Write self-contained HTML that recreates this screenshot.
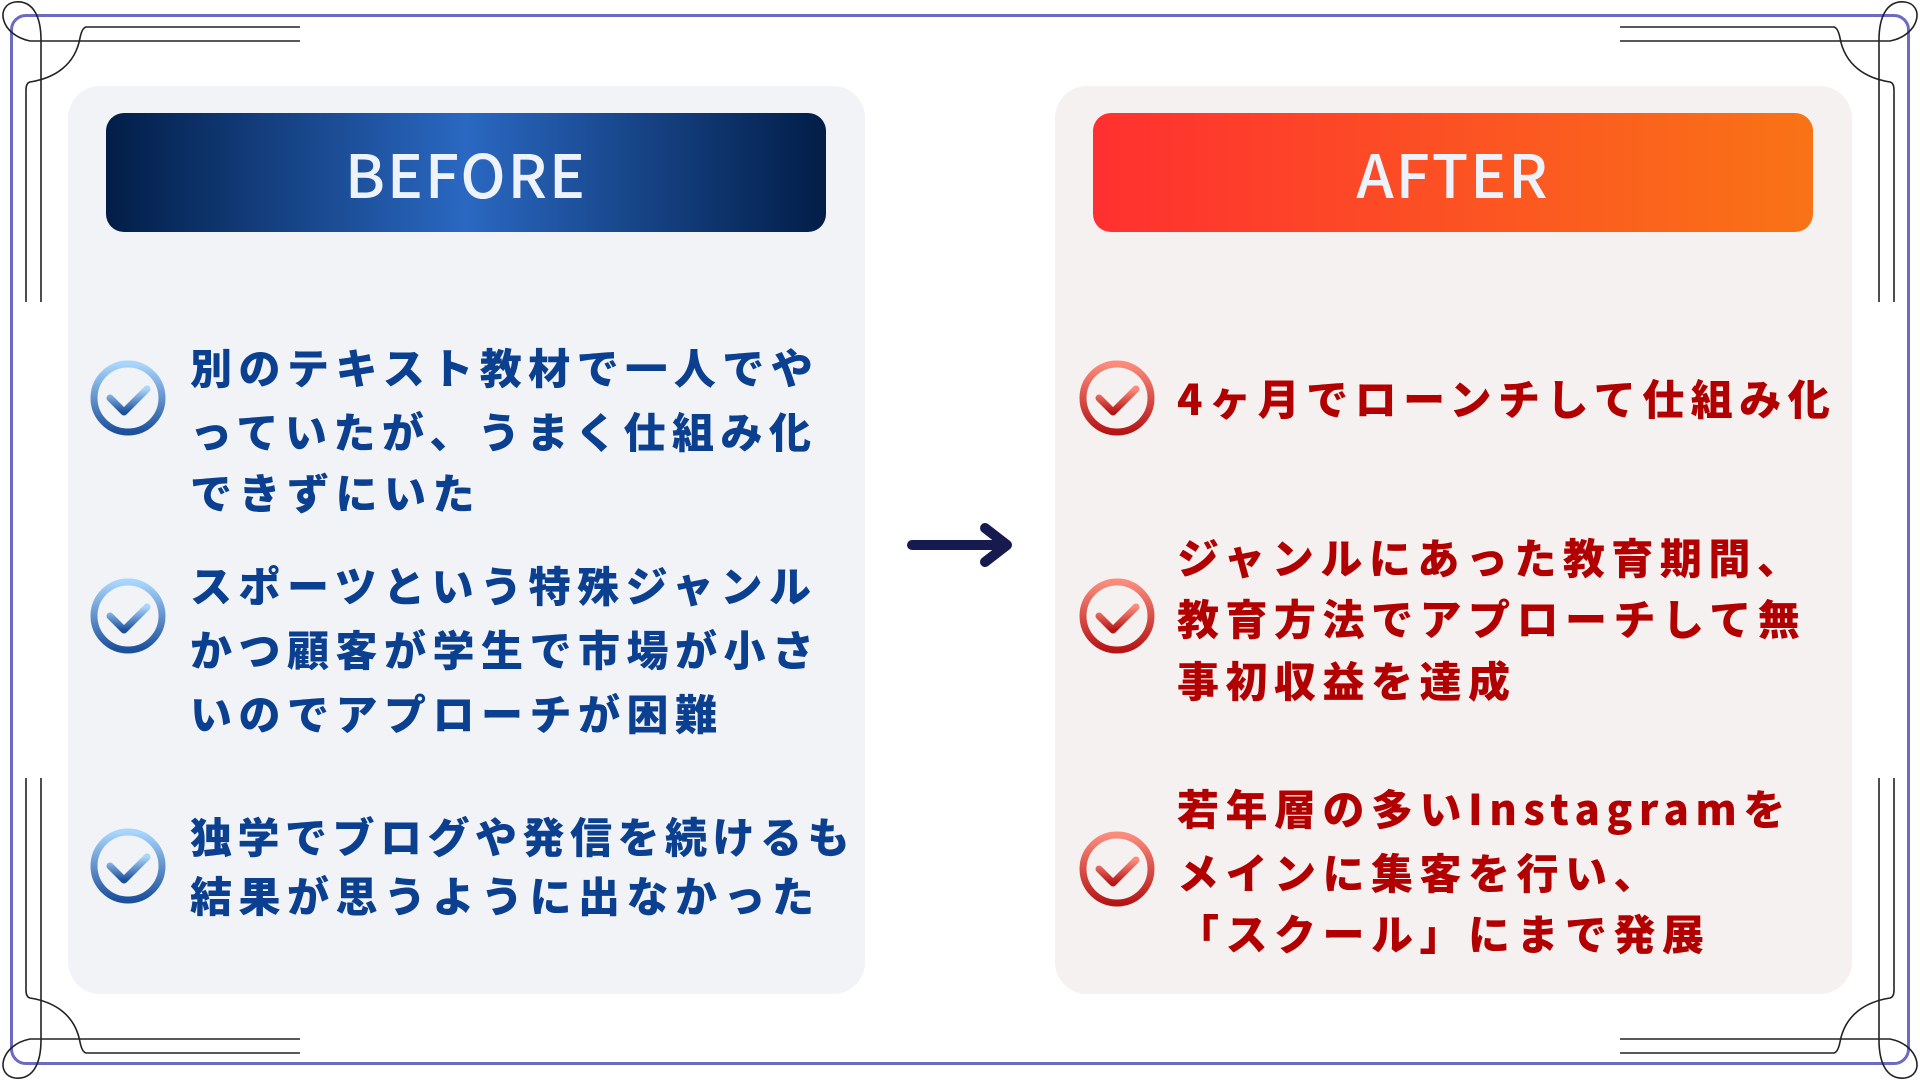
<!DOCTYPE html>
<html><head><meta charset="utf-8"><style>
*{margin:0;padding:0;box-sizing:border-box}
body{width:1920px;height:1080px;background:#fff;position:relative;overflow:hidden;font-family:"Liberation Sans","Noto Sans CJK JP",sans-serif}
.frame{position:absolute;left:10px;top:14px;width:1900px;height:1051px;border:3px solid #6b6bc4;border-radius:16px}
.panel{position:absolute;top:86px;height:908px;width:797px;border-radius:32px}
.hdr{position:absolute;top:113px;height:119px;width:720px;border-radius:18px;color:#eef2fa;font-family:"Noto Sans CJK JP","Liberation Sans",sans-serif;font-weight:500;font-size:60px;letter-spacing:2px;text-align:center;line-height:119px}
.t{position:absolute;font-family:"Noto Sans CJK JP",sans-serif;font-weight:900;font-size:42px;letter-spacing:6.5px;line-height:62px;white-space:nowrap}
.b{color:#0b3f8f;left:190px}
.r{color:#b20000;left:1177px}
</style></head><body>
<div class="frame"></div>
<svg width="1920" height="1080" style="position:absolute;left:0;top:0" fill="none" stroke="#222" stroke-width="1.6">
<defs><g id="c">
<path d="M300,27 L86,27 Q82,28 80,38 C75,65 55,78 30,82 Q26,83 26,90 L26,302"/>
<path d="M300,41 L30,41 C0,35 -5,5 15,2 C35,0 41,20 41,40 L41,302"/>
</g>
<linearGradient id="gb" x1="0" y1="0" x2="0" y2="1"><stop offset="0" stop-color="#a9d6fc"/><stop offset="1" stop-color="#1c4f9c"/></linearGradient>
<linearGradient id="gr" x1="0" y1="0" x2="0" y2="1"><stop offset="0" stop-color="#fb8c7c"/><stop offset="1" stop-color="#b51515"/></linearGradient>
</defs>
<use href="#c"/>
<use href="#c" transform="translate(1920,0) scale(-1,1)"/>
<use href="#c" transform="translate(0,1080) scale(1,-1)"/>
<use href="#c" transform="translate(1920,1080) scale(-1,-1)"/>
</svg>
<div class="panel" style="left:68px;background:#f1f3f7"></div>
<div class="panel" style="left:1055px;background:#f6f1f1"></div>
<div class="hdr" style="left:106px;background:linear-gradient(90deg,#021d47 0%,#2a68c2 50%,#021d47 100%)">BEFORE</div>
<div class="hdr" style="left:1093px;background:linear-gradient(90deg,#ff3030 0%,#f97316 100%)">AFTER</div>

<svg width="1920" height="1080" style="position:absolute;left:0;top:0" fill="none" stroke-linecap="round" stroke-linejoin="round">
<g stroke="url(#gb)" stroke-width="7">
<circle cx="128" cy="398" r="34"/><polyline points="110,398 124,412 147,389"/>
<circle cx="128" cy="616" r="34"/><polyline points="110,616 124,630 147,607"/>
<circle cx="128" cy="866" r="34"/><polyline points="110,866 124,880 147,857"/>
</g>
<g stroke="url(#gr)" stroke-width="7">
<circle cx="1117" cy="398" r="34"/><polyline points="1099,398 1113,412 1136,389"/>
<circle cx="1117" cy="616" r="34"/><polyline points="1099,616 1113,630 1136,607"/>
<circle cx="1117" cy="869" r="34"/><polyline points="1099,869 1113,883 1136,860"/>
</g>
<g stroke="#161a4e" stroke-width="10">
<line x1="912" y1="545" x2="1006" y2="545"/><polyline points="985,528 1007,545 985,562"/>
</g>
</svg>

<div class="t b" style="top:336px">別のテキスト教材で一人でや</div>
<div class="t b" style="top:400px">っていたが、うまく仕組み化</div>
<div class="t b" style="top:461px">できずにいた</div>
<div class="t b" style="top:554px">スポーツという特殊ジャンル</div>
<div class="t b" style="top:618px">かつ顧客が学生で市場が小さ</div>
<div class="t b" style="top:682px">いのでアプローチが困難</div>
<div class="t b" style="top:805px;letter-spacing:5.5px">独学でブログや発信を続けるも</div>
<div class="t b" style="top:864px">結果が思うように出なかった</div>

<div class="t r" style="top:367px">4ヶ月でローンチして仕組み化</div>
<div class="t r" style="top:526px">ジャンルにあった教育期間、</div>
<div class="t r" style="top:587px">教育方法でアプローチして無</div>
<div class="t r" style="top:649px">事初収益を達成</div>
<div class="t r" style="top:777px">若年層の多いInstagramを</div>
<div class="t r" style="top:841px">メインに集客を行い、</div>
<div class="t r" style="top:902px">「スクール」にまで発展</div>
</body></html>
